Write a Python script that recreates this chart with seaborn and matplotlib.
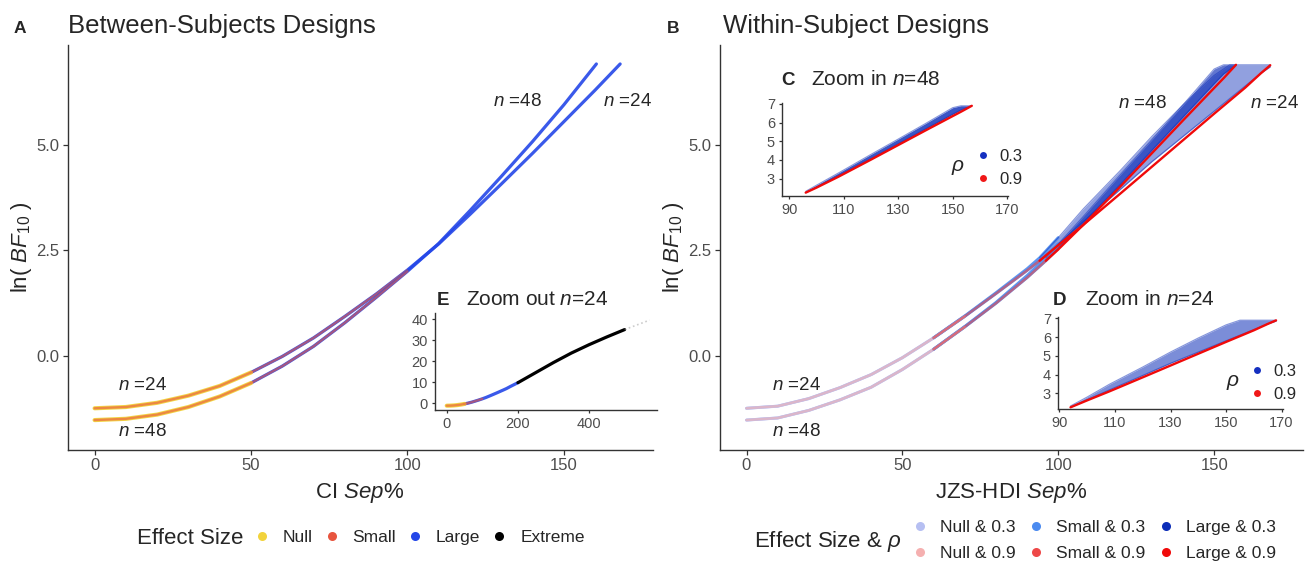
import matplotlib
matplotlib.use("Agg")
import matplotlib.pyplot as plt
from matplotlib.lines import Line2D
import pandas as pd
import seaborn as sns

sns.set_theme(style="white")
plt.rcParams["font.family"] = ["Liberation Sans", "DejaVu Sans"]
plt.rcParams["mathtext.fontset"] = "custom"
plt.rcParams["mathtext.rm"] = "Liberation Sans"
plt.rcParams["mathtext.it"] = "Liberation Sans:italic"
plt.rcParams["mathtext.bf"] = "Liberation Sans:bold"

W, H = 1307, 562
LNBF_MAX = 6.92    # ln(1000): main panels stop here
LNBF_ZOOM = 2.25   # zoom-in insets start near ln(10)

# ---------------- Between-subjects designs (CI Sep%) ----------------
sep_a24 = [0, 10, 20, 30, 40, 50, 60, 70, 80, 90, 100, 110, 120, 130, 140, 150,
           160, 168, 180, 200, 225, 250, 300, 350, 400, 450, 500, 550, 570]
lnbf_a24 = [-1.25, -1.22, -1.12, -0.95, -0.72, -0.40, -0.02, 0.42, 0.93, 1.46,
            2.03, 2.65, 3.35, 4.07, 4.80, 5.55, 6.30, 6.92, 8.0, 9.7, 12.1, 14.5,
            19.3, 23.8, 27.8, 31.5, 35.0, 38.2, 39.5]
sep_a48 = [0, 10, 20, 30, 40, 50, 60, 70, 80, 90, 100, 110, 120, 130, 140, 150, 160.4]
lnbf_a48 = [-1.53, -1.50, -1.40, -1.22, -0.97, -0.65, -0.25, 0.22, 0.78, 1.38,
            2.00, 2.66, 3.44, 4.25, 5.08, 5.95, 6.92]

effects_a = ["Null", "Small", "Large", "Extreme"]
effect_from_a = [0, 0, 50, 200]
effect_to_a = [50, 100, 200, 500]
colors_a = ["#F2D33C", "#E8553F", "#2447E8", "#000000"]

# ---------------- Within-subject designs (JZS-HDI Sep%) ----------------
sep_b24 = [0, 10, 20, 30, 40, 50, 60, 70, 80, 90, 94, 100, 108, 120, 130, 140, 150, 155, 160, 165, 168]
rho09_b24 = [-1.25, -1.20, -1.02, -0.76, -0.45, -0.05, 0.42, 0.93, 1.47, 2.02, 2.25,
             2.62, 3.10, 3.85, 4.48, 5.11, 5.74, 6.05, 6.36, 6.70, 6.89]
rho03_lo_b24 = [-1.25, -1.20, -1.02, -0.76, -0.45, -0.05, 0.42, 0.93, 1.47, 2.02, 2.25,
                2.65, 3.18, 3.95, 4.60, 5.20, 5.80, 6.10, 6.40, 6.70, 6.85]
rho03_hi_b24 = [-1.25, -1.20, -1.02, -0.76, -0.45, -0.05, 0.42, 0.94, 1.49, 2.06, 2.32,
                2.80, 3.48, 4.40, 5.20, 5.95, 6.65, 6.90, 6.90, 6.90, 6.90]

sep_b48 = [0, 10, 20, 30, 40, 50, 60, 70, 80, 90, 96, 100, 108, 120, 130, 140, 150, 153, 157]
rho09_b48 = [-1.53, -1.48, -1.30, -1.05, -0.75, -0.33, 0.15, 0.68, 1.24, 1.85, 2.25,
             2.52, 3.10, 4.02, 4.80, 5.58, 6.35, 6.58, 6.90]
rho03_lo_b48 = [-1.53, -1.48, -1.30, -1.05, -0.75, -0.33, 0.15, 0.68, 1.24, 1.85, 2.25,
                2.55, 3.15, 4.07, 4.87, 5.66, 6.45, 6.68, 6.90]
rho03_hi_b48 = [-1.53, -1.48, -1.30, -1.05, -0.75, -0.33, 0.15, 0.69, 1.26, 1.90, 2.32,
                2.65, 3.30, 4.30, 5.12, 5.95, 6.80, 6.90, 6.90]

effects_b = ["Null", "Small", "Large"]
effect_from_b = [0, 60, 94]
effect_to_b = [70, 100, 170]
colors_b03 = ["#B6BFF2", "#4B8BF0", "#0C2DB8"]
colors_b09 = ["#F5B0B0", "#EE4848", "#F00A0A"]

rho_levels = ["0.3", "0.9"]

fig = plt.figure(figsize=(W / 100, H / 100), dpi=100)
fig.patch.set_facecolor("white")


def fx(x):
    return x / W


def fy(y):
    return 1 - y / H


def px_axes(left, top, right, bottom):
    return fig.add_axes([fx(left), fy(bottom), (right - left) / W, (bottom - top) / H])


def style_axes(ax, tick_size, tick_len):
    for s in ["top", "right"]:
        ax.spines[s].set_visible(False)
    for s in ["left", "bottom"]:
        ax.spines[s].set_color("#333333")
        ax.spines[s].set_linewidth(1.0)
    ax.tick_params(axis="both", direction="out", length=tick_len, width=0.9,
                   color="#333333", labelcolor="#4D4D4D", labelsize=tick_size,
                   pad=2.5, left=True, bottom=True)
    ax.set_xlabel("")
    ax.set_ylabel("")
    ax.grid(False)


def segment(sep, vals, lo, hi, ymin=-99, ymax=99):
    df = pd.DataFrame({"sep": sep, "lnbf": vals})
    return df[(df.sep >= lo) & (df.sep <= hi) & (df.lnbf >= ymin) & (df.lnbf <= ymax)]


def draw_line(ax, sep, vals, lo, hi, color, lw, alpha, ymin=-99, ymax=99, ls="-"):
    sub = segment(sep, vals, lo, hi, ymin, ymax)
    if len(sub) > 1:
        sns.lineplot(data=sub, x="sep", y="lnbf", ax=ax, estimator=None, sort=True,
                     color=color, lw=lw, alpha=alpha, ls=ls, legend=False)


def draw_band(ax, sep, lo_vals, hi_vals, lo, hi, color, lw, alpha, fill_alpha, ymin=-99, ymax=99):
    df = pd.DataFrame({"sep": sep, "lo": lo_vals, "hi": hi_vals})
    sub = df[(df.sep >= lo) & (df.sep <= hi) & (df.lo >= ymin) & (df.hi <= ymax)]
    if len(sub) < 2:
        return
    if fill_alpha > 0:
        ax.fill_between(sub.sep, sub.lo, sub.hi, color=color, alpha=fill_alpha, lw=0)
    for col in ["lo", "hi"]:
        sns.lineplot(x=sub.sep, y=sub[col], ax=ax, estimator=None, sort=True,
                     color=color, lw=lw, alpha=alpha, legend=False)


# drawing order and strokes per effect size (large underneath, small on top to blend)
order_a = ["Large", "Extreme", "Null", "Small"]
line_style_a = {"Null": (3.0, 0.95), "Small": (1.7, 0.6), "Large": (2.3, 0.9), "Extreme": (2.3, 1.0)}


def draw_between(ax, sep, vals, ymax=99):
    for name in order_a:
        i = effects_a.index(name)
        lw, al = line_style_a[name]
        draw_line(ax, sep, vals, effect_from_a[i], effect_to_a[i], colors_a[i], lw, al, ymax=ymax)


# ---------------- Panel A ----------------
axA = px_axes(68, 45, 653, 450)
for sep, vals in [(sep_a24, lnbf_a24), (sep_a48, lnbf_a48)]:
    draw_between(axA, sep, vals, ymax=LNBF_MAX)
axA.set_xlim(-8.5, 178.5)
axA.set_ylim(-2.24, 7.37)
axA.set_xticks([0, 50, 100, 150])
axA.set_yticks([0, 2.5, 5.0])
axA.set_yticklabels(["0.0", "2.5", "5.0"])
style_axes(axA, 12, 3.5)

# ---------------- Panel B ----------------
axB = px_axes(720, 45, 1303, 450)


def draw_within(ax, ymin, ymax, which, dens_scale=1.0):
    bands = {"24": (sep_b24, rho03_lo_b24, rho03_hi_b24, rho09_b24, 0.45),
             "48": (sep_b48, rho03_lo_b48, rho03_hi_b48, rho09_b48, 0.65)}
    for key in which:
        sep, lo_v, hi_v, red_v, dens = bands[key]
        for name, lo, hi, c03 in zip(effects_b, effect_from_b, effect_to_b, colors_b03):
            if ymin > 0 and name != "Large":
                continue
            if name == "Large":
                draw_band(ax, sep, lo_v, hi_v, lo, hi, c03, 0.8, 0.5,
                          min(dens * dens_scale, 0.9), ymin, ymax)
            else:
                draw_band(ax, sep, lo_v, hi_v, lo, hi, c03, 2.1, 0.9, 0, ymin, ymax)
    for key in which:
        sep, lo_v, hi_v, red_v, dens = bands[key]
        for name, lo, hi, c09 in zip(effects_b, effect_from_b, effect_to_b, colors_b09):
            if ymin > 0 and name != "Large":
                continue
            if name == "Large":
                draw_line(ax, sep, red_v, lo, hi, c09, 1.7, 1.0, ymin, ymax)
            else:
                draw_line(ax, sep, red_v, lo, hi, c09, 1.8, 0.6, ymin, ymax)


draw_within(axB, -99, LNBF_MAX, ["24", "48"])
axB.set_xlim(-8.5, 178.5)
axB.set_ylim(-2.24, 7.37)
axB.set_xticks([0, 50, 100, 150])
axB.set_yticks([0, 2.5, 5.0])
axB.set_yticklabels(["0.0", "2.5", "5.0"])
style_axes(axB, 12, 3.5)

# ---------------- Inset E: zoom out, n = 24 ----------------
axE = px_axes(435, 313, 657, 410)
axE.set_facecolor("white")
draw_between(axE, sep_a24, lnbf_a24)
draw_line(axE, sep_a24, lnbf_a24, effect_to_a[-1], 600, "#9A9A9A", 1.2, 0.5, ls=":")
axE.set_xlim(-33, 591)
axE.set_ylim(-3.3, 42.9)
axE.set_xticks([0, 200, 400])
axE.set_yticks([0, 10, 20, 30, 40])
style_axes(axE, 10.5, 2.5)

# ---------------- Insets C and D: zoom in ----------------
axC = px_axes(782, 103, 1008, 196)
axC.set_facecolor("white")
draw_within(axC, LNBF_ZOOM, 99, ["48"], dens_scale=1.25)
axC.set_xlim(87.3, 170.3)
axC.set_ylim(2.07, 7.05)
axC.set_xticks([90, 110, 130, 150, 170])
axC.set_yticks([3, 4, 5, 6, 7])
style_axes(axC, 10.5, 2.5)

axD = px_axes(1058, 317, 1283, 409)
axD.set_facecolor("white")
draw_within(axD, LNBF_ZOOM, 99, ["24"], dens_scale=1.2)
axD.set_xlim(89.5, 170.5)
axD.set_ylim(2.16, 7.07)
axD.set_xticks([90, 110, 130, 150, 170])
axD.set_yticks([3, 4, 5, 6, 7])
style_axes(axD, 10.5, 2.5)

# rho legends inside the zoom-in insets
rho_handles = [Line2D([], [], ls="", marker="o", ms=5, mfc=c, mec="none")
               for c in ["#1530C0", "#F01818"]]
for x_rho, y_mid, x_leg in [(958, 168, 975), (1233, 383, 1249)]:
    fig.text(fx(x_rho), fy(y_mid), r"$\rho$", fontsize=15, ha="center", va="center")
    fig.legend(rho_handles, rho_levels, loc="center left", bbox_to_anchor=(fx(x_leg), fy(y_mid)),
               frameon=False, fontsize=12, handlelength=1.0, handletextpad=0.45,
               labelspacing=0.45, borderpad=0, borderaxespad=0)

# ---------------- Text ----------------
def label(x, y, s, size, **kw):
    fig.text(fx(x), fy(y), s, fontsize=size, **kw)


label(14, 33, "A", 12.5, fontweight="bold", va="baseline")
label(68, 33, "Between-Subjects Designs", 18.5, va="baseline")
label(667, 33, "B", 12.5, fontweight="bold", va="baseline")
label(723, 33, "Within-Subject Designs", 18.5, va="baseline")

label(437, 305, "E", 13.5, fontweight="bold", va="baseline")
label(466, 305, r"Zoom out $n$=24", 15, va="baseline")
label(781, 85, "C", 13.5, fontweight="bold", va="baseline")
label(811, 85, r"Zoom in $n$=48", 15, va="baseline")
label(1053, 305, "D", 13.5, fontweight="bold", va="baseline")
label(1085, 305, r"Zoom in $n$=24", 15, va="baseline")

for x, y, s in [(118, 385, r"$n$ =24"), (118, 431, r"$n$ =48"),
                (493, 102, r"$n$ =48"), (603, 102, r"$n$ =24"),
                (772, 386, r"$n$ =24"), (772, 432, r"$n$ =48"),
                (1118, 103, r"$n$ =48"), (1250, 103, r"$n$ =24")]:
    label(x, y, s, 13.5, va="center")

ylab = r"ln( $BF_{10}$ )"
label(22, 247, ylab, 16, rotation=90, ha="center", va="center")
label(674, 247, ylab, 16, rotation=90, ha="center", va="center")
label(360, 493, r"CI $\mathit{Sep\%}$", 16, ha="center", va="center")
label(1011, 493, r"JZS-HDI $\mathit{Sep\%}$", 16, ha="center", va="center")

# ---------------- Bottom legends ----------------
label(137, 539, "Effect Size", 16, va="center")
handles_a = [Line2D([], [], ls="", marker="o", ms=6.5, mfc=c, mec="none") for c in colors_a]
fig.legend(handles_a, effects_a, loc="center left", bbox_to_anchor=(fx(253), fy(537)), ncol=4,
           frameon=False, fontsize=12.5, handlelength=1.0, handletextpad=0.7,
           columnspacing=0.6, borderpad=0, borderaxespad=0)

label(754, 541, r"Effect Size & $\rho$", 16, va="center")
handles_b, labels_b = [], []
for name, c03, c09 in zip(effects_b, colors_b03, colors_b09):
    for rho, c in zip(rho_levels, [c03, c09]):
        handles_b.append(Line2D([], [], ls="", marker="o", ms=6.5, mfc=c, mec="none"))
        labels_b.append(f"{name} & {rho}")
fig.legend(handles_b, labels_b, loc="center left", bbox_to_anchor=(fx(911), fy(540.5)), ncol=3,
           frameon=False, fontsize=12.5, handlelength=1.0, handletextpad=0.65,
           columnspacing=0.7, labelspacing=0.58, borderpad=0, borderaxespad=0)

fig.savefig("out.png", dpi=100, facecolor="white")
